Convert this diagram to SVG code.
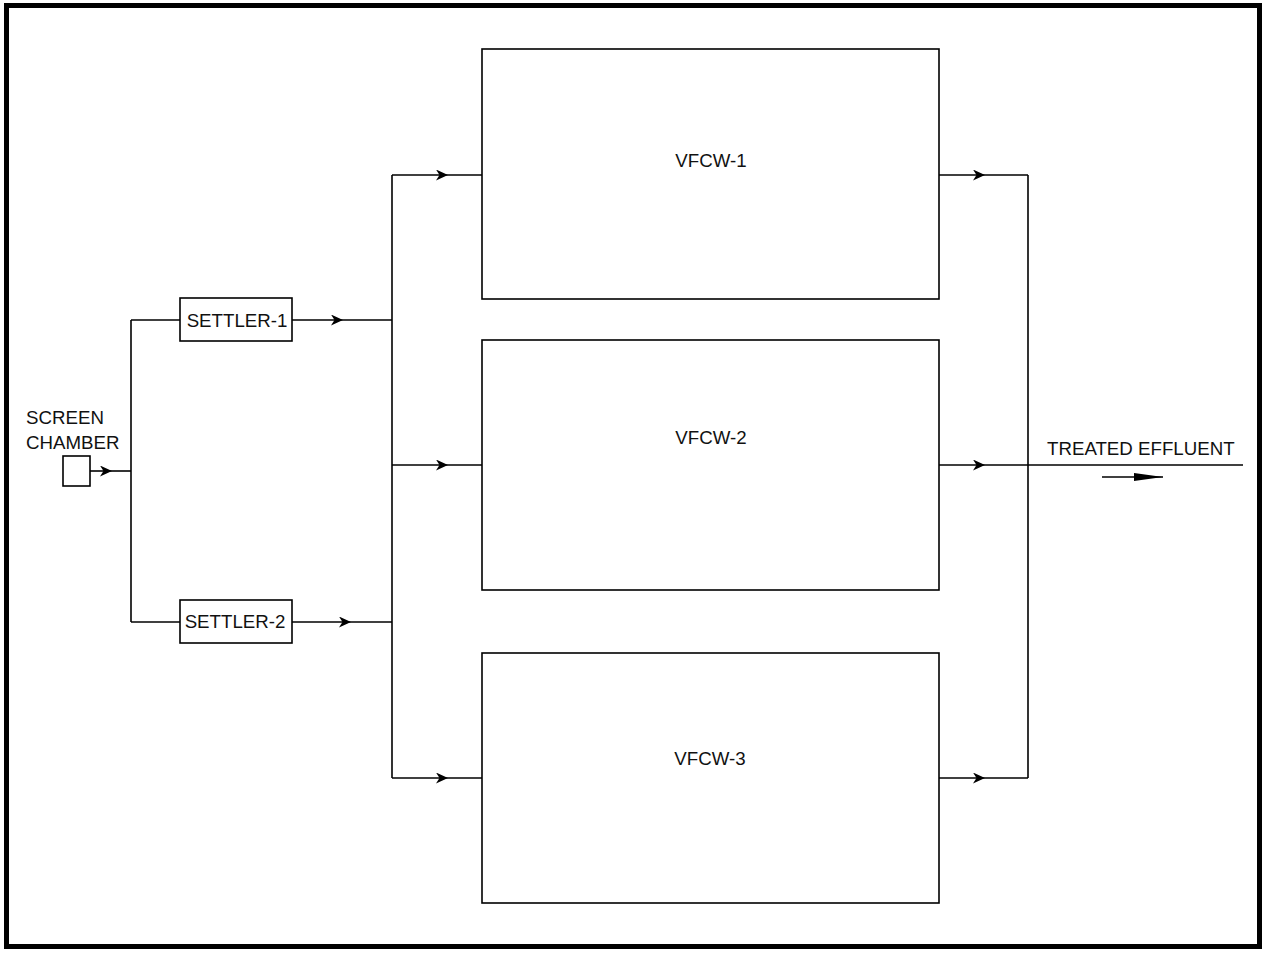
<svg xmlns="http://www.w3.org/2000/svg" width="1263" height="953" viewBox="0 0 1263 953">
<style>
.box{fill:#fff;stroke:#000;stroke-width:1.6}
.ln{fill:none;stroke:#000;stroke-width:1.6}
.t{font-family:"Liberation Sans",Arial,sans-serif;font-size:18.7px;fill:#111}
</style>
<defs>
<marker id="ah" markerWidth="13" markerHeight="11" refX="12" refY="5.5" orient="auto" markerUnits="userSpaceOnUse">
<path d="M0,0 L12,5.5 L0,11 L3.5,5.5 z" fill="#000"/>
</marker>
<marker id="big" markerWidth="30" markerHeight="8" refX="29" refY="4" orient="auto" markerUnits="userSpaceOnUse">
<path d="M0,0 L29,4 L0,8 z" fill="#000"/>
</marker>
</defs>
<rect width="1263" height="953" fill="#fff"/>
<rect x="6.5" y="5.5" width="1253" height="941" fill="none" stroke="#000" stroke-width="5"/>

<g id="connectors">
<line class="ln" x1="90" y1="471" x2="112" y2="471" marker-end="url(#ah)"/>
<line class="ln" x1="112" y1="471" x2="131" y2="471"/>
<line class="ln" x1="131" y1="320" x2="131" y2="622"/>
<line class="ln" x1="131" y1="320" x2="180" y2="320"/>
<line class="ln" x1="131" y1="622" x2="180" y2="622"/>
<line class="ln" x1="292" y1="320" x2="343" y2="320" marker-end="url(#ah)"/>
<line class="ln" x1="343" y1="320" x2="392" y2="320"/>
<line class="ln" x1="292" y1="622" x2="351" y2="622" marker-end="url(#ah)"/>
<line class="ln" x1="351" y1="622" x2="392" y2="622"/>
<line class="ln" x1="392" y1="175" x2="392" y2="778"/>
<line class="ln" x1="392" y1="175" x2="448" y2="175" marker-end="url(#ah)"/>
<line class="ln" x1="448" y1="175" x2="482" y2="175"/>
<line class="ln" x1="392" y1="465" x2="448" y2="465" marker-end="url(#ah)"/>
<line class="ln" x1="448" y1="465" x2="482" y2="465"/>
<line class="ln" x1="392" y1="778" x2="448" y2="778" marker-end="url(#ah)"/>
<line class="ln" x1="448" y1="778" x2="482" y2="778"/>
<line class="ln" x1="939" y1="175" x2="985" y2="175" marker-end="url(#ah)"/>
<line class="ln" x1="985" y1="175" x2="1028" y2="175"/>
<line class="ln" x1="939" y1="465" x2="985" y2="465" marker-end="url(#ah)"/>
<line class="ln" x1="985" y1="465" x2="1243" y2="465"/>
<line class="ln" x1="939" y1="778" x2="985" y2="778" marker-end="url(#ah)"/>
<line class="ln" x1="985" y1="778" x2="1028" y2="778"/>
<line class="ln" x1="1028" y1="175" x2="1028" y2="778"/>
<line class="ln" x1="1102" y1="477" x2="1163" y2="477" marker-end="url(#big)"/>
</g>

<g id="screen-chamber">
<rect class="box" x="63" y="456" width="27" height="30"/>
<text class="t" x="26" y="424">SCREEN</text>
<text class="t" x="26" y="449">CHAMBER</text>
</g>
<g id="settler-1">
<rect class="box" x="180" y="298" width="112" height="43"/>
<text class="t" x="237" y="327" text-anchor="middle">SETTLER-1</text>
</g>
<g id="settler-2">
<rect class="box" x="180" y="600" width="112" height="43"/>
<text class="t" x="235" y="628" text-anchor="middle">SETTLER-2</text>
</g>
<g id="vfcw-1">
<rect class="box" x="482" y="49" width="457" height="250"/>
<text class="t" x="711" y="167" text-anchor="middle">VFCW-1</text>
</g>
<g id="vfcw-2">
<rect class="box" x="482" y="340" width="457" height="250"/>
<text class="t" x="711" y="444" text-anchor="middle">VFCW-2</text>
</g>
<g id="vfcw-3">
<rect class="box" x="482" y="653" width="457" height="250"/>
<text class="t" x="710" y="765" text-anchor="middle">VFCW-3</text>
</g>
<g id="treated-effluent">
<text class="t" x="1047" y="455">TREATED EFFLUENT</text>
</g>
</svg>
